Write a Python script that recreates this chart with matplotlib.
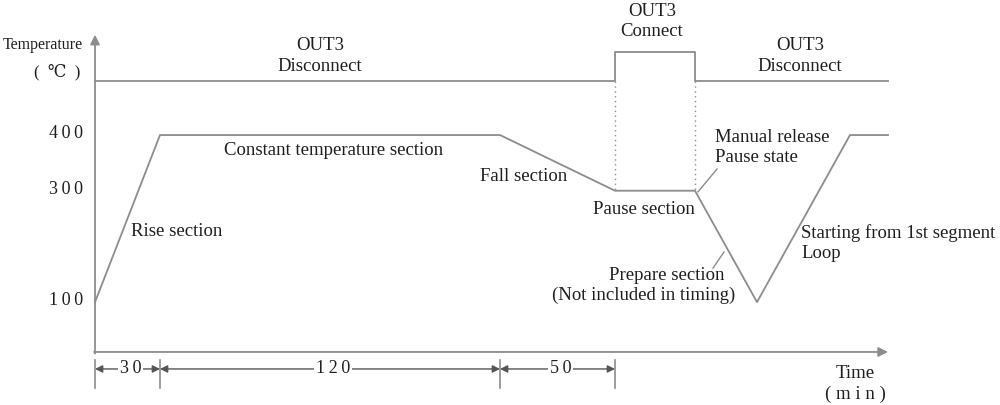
import numpy as np
import matplotlib
matplotlib.use("Agg")
import matplotlib.pyplot as plt

plt.rcParams['font.family'] = ['Liberation Serif', 'DejaVu Serif']

# 温度曲线的折点（示意横坐标）和温度
curve_x = [0, 65, 405, 520, 600, 662, 755, 793]
curve_temp = [100, 400, 400, 300, 300, 100, 400, 400]

# OUT3 信号
sig_x = [0, 520, 520, 600, 600, 793]
sig_y = [497, 497, 549, 549, 497, 497]

# 纵轴刻度
hs = '\u2009'
temp_ticks = [100, 300, 400]
temp_tick_labels = [hs.join('100'), hs.join('300'), hs.join('400')]

# 时间段
dim_edges = [0, 65, 405, 520]
dim_labels = [hs.join('30'), hs.join('120'), hs.join('50')]

line_c = '#8c8c8c'
text_c = '#1e1e1e'

fig = plt.figure(figsize=(10, 4.05), dpi=100)
ax = fig.add_axes([0, 0, 1, 1])
ax.set_xlim(-95, 905)
ax.set_ylim(-84.7, 642.4)
ax.axis('off')

# 坐标轴
x_axis_y = 10.5
ax.annotate('', xy=(0, 580), xytext=(0, x_axis_y - 3),
            arrowprops=dict(arrowstyle='-|>', color=line_c, lw=1.3,
                            mutation_scale=14, shrinkA=0, shrinkB=0))
ax.annotate('', xy=(793, x_axis_y), xytext=(-1, x_axis_y),
            arrowprops=dict(arrowstyle='-|>', color=line_c, lw=1.3,
                            mutation_scale=14, shrinkA=0, shrinkB=0))

ax.plot(curve_x, curve_temp, color=line_c, lw=1.3)
ax.plot(sig_x, sig_y, color=line_c, lw=1.3)
for xv in [520, 600]:
    ax.plot([xv, xv], [497, 300], color=line_c, lw=1.0, ls=(0, (1, 2.5)))

fs = 13.5
tfs = 13
for t, lab in zip(temp_ticks, temp_tick_labels):
    ax.text(-12, t + 3, lab, ha='right', va='center', fontsize=tfs, color=text_c)
ax.text(-12, 561, 'Temperature', ha='right', va='center', fontsize=11.5, color=text_c)
ax.text(-15, 513, '(  ℃  )', ha='right', va='center', fontsize=12, color=text_c)

# 时间段标注
dim_y = -20
for xv in dim_edges:
    ax.plot([xv, xv], [-4, -54], color=line_c, lw=1.2)
for a, b, lab in zip(dim_edges[:-1], dim_edges[1:], dim_labels):
    ax.annotate('', xy=(b, dim_y), xytext=(a, dim_y),
                arrowprops=dict(arrowstyle='<|-|>', color='#555555', lw=1.0,
                                mutation_scale=11, shrinkA=0, shrinkB=0))
    ax.text((a + b) / 2 + 3, dim_y, lab, ha='center', va='center', fontsize=tfs,
            color=text_c, bbox=dict(fc='white', ec='none', pad=1))

ax.text(760, -29, 'Time', ha='center', va='center', fontsize=fs, color=text_c)
ax.text(760, -65, '( m i n )', ha='center', va='center', fontsize=fs, color=text_c)

kw = dict(fontsize=fs, color=text_c, linespacing=1.25)
ax.text(225, 542, 'OUT3\nDisconnect', ha='center', va='center', **kw)
ax.text(557, 604, 'OUT3\nConnect', ha='center', va='center', **kw)
ax.text(705, 542, 'OUT3\nDisconnect', ha='center', va='center', **kw)
ax.text(36, 226, 'Rise section', ha='left', va='center', **kw)
ax.text(129, 373, 'Constant temperature section', ha='left', va='center', **kw)
ax.text(385, 326, 'Fall section', ha='left', va='center', **kw)
ax.text(498, 267, 'Pause section', ha='left', va='center', **kw)
ax.text(620, 377, 'Manual release\nPause state', ha='left', va='center', **kw)
ax.text(572, 148, 'Prepare section', ha='center', va='center', **kw)
ax.text(640, 112, '(Not included in timing)', ha='right', va='center', **kw)
ax.text(706, 206, 'Starting from 1st segment\nLoop', ha='left', va='center', **kw)

# 引线
ax.plot([603, 622], [298, 339], color=line_c, lw=1.0)
ax.plot([618, 629], [161, 190], color=line_c, lw=1.0)

fig.savefig('out.png', dpi=100)
